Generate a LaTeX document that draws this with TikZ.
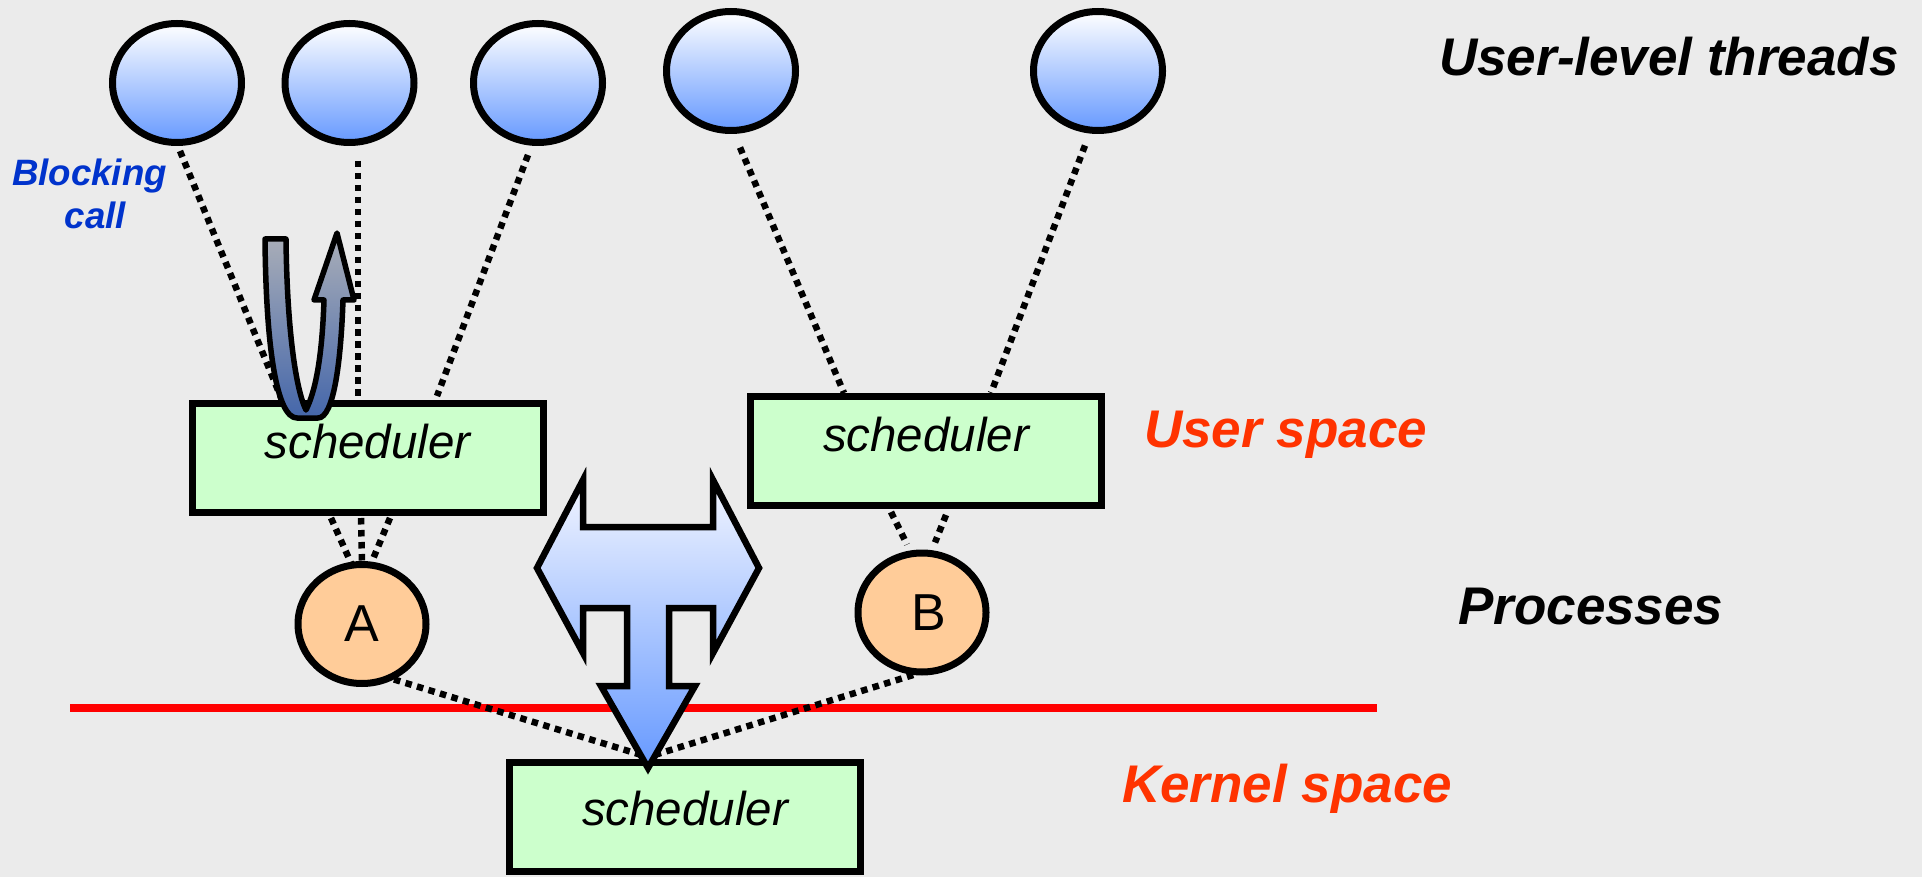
\documentclass[tikz,border=0pt]{standalone}
\usepackage{fontspec}
\setmainfont{Liberation Sans}
\usetikzlibrary{shapes.geometric,calc,backgrounds}
\definecolor{bgc}{HTML}{EBEBEB}
\definecolor{thrblue}{HTML}{6699FF}
\definecolor{procor}{HTML}{FFCC99}
\definecolor{schgreen}{HTML}{CCFFCC}
\definecolor{lblred}{HTML}{FF3300}
\definecolor{blkblue}{HTML}{0033CC}
\definecolor{arrgray}{HTML}{ABAFB8}
\definecolor{arrblue}{HTML}{4466AA}
\definecolor{tlight}{HTML}{F2F5FF}
\begin{document}
\begin{tikzpicture}[x=1pt,y=-1pt,
  thread/.style={ellipse, draw=black, line width=7pt, minimum width=129pt, minimum height=119pt, inner sep=0pt, top color=white, bottom color=thrblue},
  proc/.style={ellipse, draw=black, line width=7pt, fill=procor, minimum width=128pt, minimum height=119pt, inner sep=0pt, font=\fontsize{52}{60}\selectfont},
  sched/.style={rectangle, draw=black, line width=7pt, fill=schgreen, minimum width=351pt, minimum height=109pt, inner sep=0pt, text height=30pt, text depth=30pt, font=\fontsize{47.5}{55}\selectfont\itshape},
  dotline/.style={line width=6.5pt, dash pattern=on 6.5pt off 5.5pt},
  lbl/.style={anchor=base west, inner sep=0pt, font=\fontsize{53}{60}\selectfont\bfseries\itshape},
  blk/.style={anchor=base, inner sep=0pt, text=blkblue, font=\fontsize{36.7}{43}\selectfont\bfseries\itshape},
  bigarrow/.style={draw=black, line width=6.5pt, line join=miter, top color=tlight, bottom color=thrblue},
  callarrow/.style={draw=black, line width=5.5pt, line join=round, top color=arrgray, bottom color=arrblue}
]
\useasboundingbox (0,0) rectangle (1922,877);

% threads
\node[thread] (t1) at (177,83) {};
\node[thread] (t2) at (349.5,83) {};
\node[thread] (t3) at (538,83) {};
\node[thread] (t4) at (731,71) {};
\node[thread] (t5) at (1098,71) {};

% schedulers
\node[sched] (s1) at (367.5,458) {scheduler};
\node[sched] (s2) at (926,451) {scheduler};
\node[sched, text height=35pt, text depth=18pt] (k) at (685,817) {scheduler};

% processes
\node[proc] (a) at (362,624) {A};
\node[proc] (b) at (922,612.5) {\hspace*{14pt}B};

\coordinate (ktop) at ($(k.north)+(-37,-2)$);

\begin{pgfonlayer}{background}
  \fill[bgc] (0,0) rectangle (1922,877);
  \draw[red, line width=8pt] (70,708) coordinate (rl) -- (1377,708) coordinate (rr);
  % threads to user schedulers
  \draw[dotline] ($(t1.south)+(3,5)$) -- ($(s1.north)+(-85.5,0)$);
  \draw[dotline] ($(t2.south)+(8.5,15)$) -- ($(s1.north)+(-9.5,0)$);
  \draw[dotline] ($(t3.south)+(-10,9)$) -- ($(s1.north)+(69.5,-4)$);
  \draw[dotline] ($(t4.south)+(9,13.5)$) -- ($(s2.north)+(-82,0)$);
  \draw[dotline] ($(t5.south)+(-13,11.5)$) -- ($(s2.north)+(65,0)$);
  % user schedulers to processes
  \draw[dotline] ($(s1.south)+(-36.5,2)$) -- ($(a.north)+(-11,2)$);
  \draw[dotline] ($(s1.south)+(-6.5,2)$) -- (a.north);
  \draw[dotline] ($(s1.south)+(22.5,2)$) -- ($(a.north)+(11,-2)$);
  \draw[dotline] ($(s2.south)+(-35,3)$) -- ($(b.north)+(-15,-5)$);
  \draw[dotline] ($(s2.south)+(20,6)$) -- ($(b.north)+(13,-7)$);
  % processes to kernel scheduler
  \draw[dotline] (a.-60) -- (ktop);
  \draw[dotline] (b.-98) -- (ktop);
\end{pgfonlayer}

% blocking call U-turn arrow
\draw[callarrow]
  (265,239) .. controls (266,350) and (277,418) .. (297,418)
  -- (318,418) .. controls (334,418) and (341,360) .. (343,300)
  -- (354,300) -- (337,233) -- (314,300) -- (324,300)
  .. controls (322,360) and (315,392) .. (306,410)
  .. controls (296,390) and (287,330) .. (286,239) -- cycle;

% T-shaped arrow
\draw[bigarrow]
  (648,768) -- (695,686) -- (669,686) -- (669,608) -- (713,608) -- (713,653)
  -- (759,568) -- (713,480) -- (713,527) -- (583,527) -- (583,480) -- (537,568)
  -- (583,653) -- (583,608) -- (627,608) -- (627,686) -- (601,686) -- cycle;

% labels
\node[lbl] (ult) at (1439,76) {User-level threads};
\node[lbl, text=lblred] (us) at (1144,447) {User space};
\node[lbl] (pr) at (1458,624) {Processes};
\node[lbl, text=lblred] (ks) at (1122,802) {Kernel space};
\node[blk] (bc1) at (89.5,186) {Blocking};
\node[blk] (bc2) at (95.5,229) {call};
\end{tikzpicture}
\end{document}
